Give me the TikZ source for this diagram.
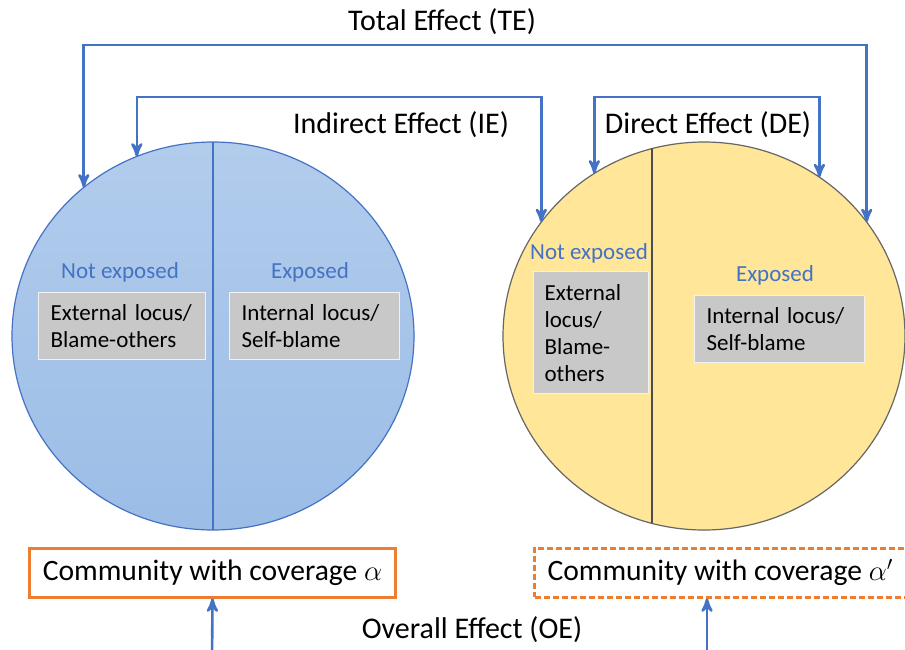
\documentclass[tikz,border=0pt]{standalone}
\usepackage{amsmath}
\usepackage{fontspec}
\setmainfont{Carlito}
\usepackage{tikz}
\usetikzlibrary{arrows, shapes.geometric}

\definecolor{effectblue}{RGB}{68,114,196}
\definecolor{pooltop}{RGB}{178,204,236}
\definecolor{poolblue}{RGB}{155,189,230}
\definecolor{poolyellow}{RGB}{255,230,153}
\definecolor{locusgray}{RGB}{200,200,200}
\definecolor{coverorange}{RGB}{237,125,49}

\tikzset{
  effect/.style={draw=effectblue, line width=1.3pt},
  pool/.style={ellipse, minimum width=201pt, minimum height=194pt, inner sep=0pt, outer sep=0pt, line width=0.6pt},
  group/.style={text=effectblue, font=\fontsize{11.5}{13.5}\selectfont},
  locus/.style={fill=locusgray, draw=white!75!locusgray, line width=0.6pt, anchor=north west, align=left, inner xsep=6pt, font=\fontsize{11.5}{13.5}\selectfont},
  cover/.style={draw=coverorange, line width=1.5pt, minimum height=24.5pt, inner xsep=6.5pt, font=\fontsize{14.8}{18}\selectfont},
  elabel/.style={font=\fontsize{15}{18}\selectfont}
}

\begin{document}
\begin{tikzpicture}[x=0.5pt,y=-0.5pt,>=stealth']
			\useasboundingbox (0,0) rectangle (905,649);
			\clip (0,0) rectangle (905,649);
			\node[pool, top color=pooltop, bottom color=poolblue, draw=effectblue] (lc) at (213,336) {};
			\node[pool, fill=poolyellow, draw=gray!80!black]                      (rc) at (704,336) {};
			\coordinate (rdiv) at (652,336);
			\draw[effectblue, line width=0.6pt]    (lc.north) -- (lc.south);
			\draw[gray!60!black, line width=0.6pt] (rdiv |- rc.105.5) -- (rdiv |- rc.254.5);

			\node[group] (ln) at (120,272) {Not exposed};
			\node[group] (le) at (310,272) {Exposed};
			\node[locus, text width=71.5pt, minimum height=33.5pt] (lext) at (38,292)  {External locus/\\Blame-others};
			\node[locus, text width=73pt, minimum height=33.5pt]   (lint) at (229,292) {Internal locus/\\Self-blame};

			\node[group] (rn) at (589,253) {Not exposed};
			\node[group] (re) at (775,275) {Exposed};
			\node[locus, inner xsep=5.5pt, text width=46.5pt, minimum height=61pt] (rext) at (533,271) {External\\locus/\\Blame-\\others};
			\node[locus, text width=73pt, minimum height=33.5pt] (rint) at (694,295) {Internal locus/\\Self-blame};

			\node[elabel] (te) at (442,22)  {Total Effect (TE)};
			\node[elabel] (ie) at (401,125) {Indirect Effect (IE)};
			\node[elabel] (de) at (708,125) {Direct Effect (DE)};
			\node[elabel] (oe) at (472,630) {Overall Effect (OE)};

			\node[cover]                                           (cl) at (212.5,572.5) {Community with coverage $\alpha$};
			\node[cover, dash pattern=on 3pt off 1.5pt, anchor=west] (cr) at (533,572.5)   {Community with coverage $\alpha'$};

			\coordinate (te-line) at (442,45);
			\coordinate (ie-line) at (340,97);
			\coordinate (de-line) at (706,97);
			\coordinate (oe-l) at (212,665);
			\coordinate (oe-r) at (707,665);
			\draw[effect, <->] (lc.131) |- (te-line) -| (rc.35);
			\draw[effect, <->] (lc.113) |- (ie-line) -| (rc.145);
			\draw[effect, <->] (rc.124) |- (de-line) -| (rc.54);
			\draw[effect, ->]  (oe-l) -- (cl.south);
			\draw[effect, ->]  (oe-r) -- (oe-r |- cr.south);
		\end{tikzpicture}
\end{document}
